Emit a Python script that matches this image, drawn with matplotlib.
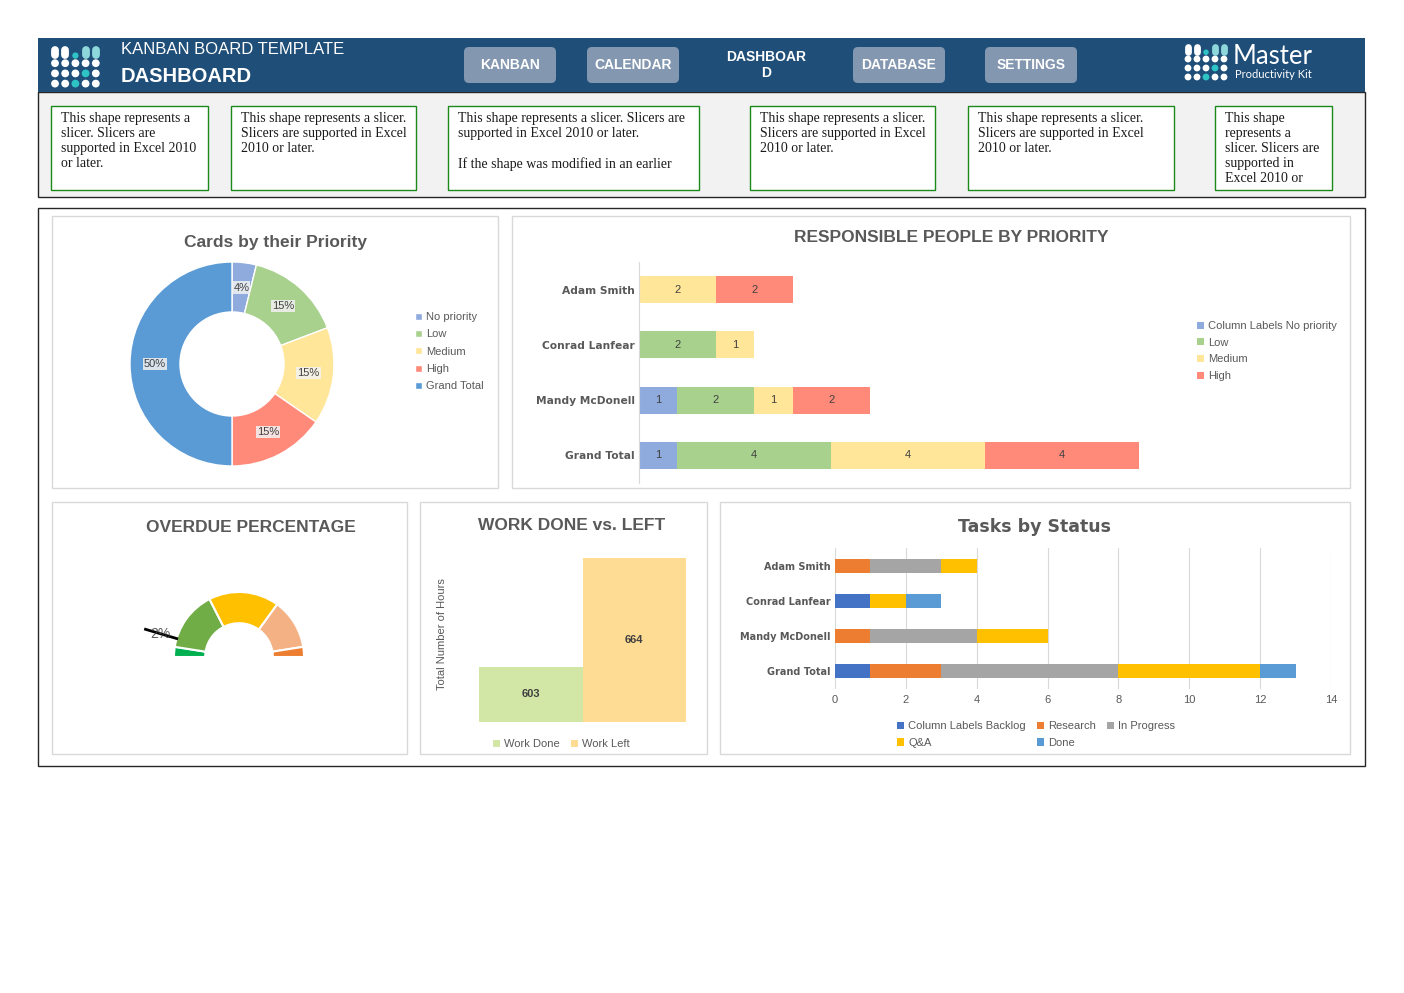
import matplotlib
matplotlib.use("Agg")
import matplotlib.pyplot as plt
from matplotlib.patches import Rectangle, FancyBboxPatch, Circle
from matplotlib.lines import Line2D
import numpy as np

plt.rcParams['font.family'] = ['Liberation Sans', 'DejaVu Sans']

W, H = 1404, 993
GREY = '#595959'

# ---------------- data ----------------
nav_items = ['KANBAN', 'CALENDAR', 'DASHBOAR\nD', 'DATABASE', 'SETTINGS']

slicer_texts = [
    "This shape represents a\nslicer. Slicers are\nsupported in Excel 2010\nor later.",
    "This shape represents a slicer.\nSlicers are supported in Excel\n2010 or later.",
    "This shape represents a slicer. Slicers are\nsupported in Excel 2010 or later.\n\nIf the shape was modified in an earlier",
    "This shape represents a slicer.\nSlicers are supported in Excel\n2010 or later.",
    "This shape represents a slicer.\nSlicers are supported in Excel\n2010 or later.",
    "This shape\nrepresents a\nslicer. Slicers are\nsupported in\nExcel 2010 or",
]

priority_labels = ['No priority', 'Low', 'Medium', 'High', 'Grand Total']
priority_counts = [1, 4, 4, 4, 13]
priority_colors = ['#8FAADC', '#A9D18E', '#FFE699', '#FF8A7A', '#5B9BD5']

people = ['Adam Smith', 'Conrad Lanfear', 'Mandy McDonell', 'Grand Total']
prio_series = ['Column Labels No priority', 'Low', 'Medium', 'High']
no_priority = [0, 0, 1, 1]
low = [0, 2, 2, 4]
medium = [2, 1, 1, 4]
high = [2, 0, 2, 4]

gauge_bands = [5, 30, 35, 25, 5]
gauge_colors = ['#00B050', '#70AD47', '#FFC000', '#F4B183', '#ED7D31']
overdue_label = '2%'
needle_angle = 163.5

work_labels = ['Work Done', 'Work Left']
work_hours = [603, 664]
work_colors = ['#D2E7A6', '#FFDC94']

status_series = ['Column Labels Backlog', 'Research', 'In Progress', 'Q&A', 'Done']
backlog = [0, 1, 0, 1]
research = [1, 0, 1, 2]
in_progress = [2, 0, 3, 5]
qa = [1, 1, 2, 4]
done = [0, 1, 0, 1]
status_colors = ['#4472C4', '#ED7D31', '#A5A5A5', '#FFC000', '#5B9BD5']


def box(x0, y0, x1, y1):
    # pixel box (top-left origin) -> figure axes
    a = fig.add_axes([x0 / W, 1 - y1 / H, (x1 - x0) / W, (y1 - y0) / H])
    a.set_facecolor('none')
    return a


def dot_logo(ax, x0, y0, step, r):
    white, teal, lteal = 'white', '#2EC4C6', '#8ED8DC'
    for j in range(1, 4):
        for i in range(5):
            c = teal if (j, i) in [(2, 3), (3, 2)] else white
            ax.add_patch(Circle((x0 + i * step, y0 + j * step), r, color=c, lw=0))
    for i, c in [(0, white), (1, white), (3, lteal), (4, lteal)]:
        ax.add_line(Line2D([x0 + i * step] * 2, [y0 - step * 0.3, y0 + step * 0.2],
                           color=c, lw=r * 2 * 0.72, solid_capstyle='round'))
    ax.add_patch(Circle((x0 + 2 * step, y0 + step * 0.25), r * 0.8, color=teal, lw=0))


def legend_kw(x, y, loc='upper left', **kw):
    d = dict(loc=loc, bbox_to_anchor=(x / W, 1 - y / H), bbox_transform=fig.transFigure,
             frameon=False, fontsize=8, labelcolor=GREY, handlelength=0.6, handleheight=0.6,
             handletextpad=0.4, labelspacing=0.62, borderpad=0, borderaxespad=0)
    d.update(kw)
    return d


fig = plt.figure(figsize=(W / 100, H / 100), dpi=100)
bg = fig.add_axes([0, 0, 1, 1])
bg.set_xlim(0, W)
bg.set_ylim(H, 0)
bg.axis('off')

# ---------------- header ----------------
bg.add_patch(Rectangle((38, 92), 1327, 105, fc='#F2F2F2', ec='#262626', lw=1))
bg.add_patch(Rectangle((38, 38), 1327, 54, fc='#1F4E78', ec='none'))
dot_logo(bg, 55, 53, 10.2, 3.9)
bg.text(121, 49, 'KANBAN BOARD TEMPLATE', color='white', fontsize=12, va='center')
bg.text(121, 77, 'DASHBOARD', color='white', fontsize=14.5, fontweight='bold', va='center')

btn_x = [464, 587, 720, 853, 985]
for x, label in zip(btn_x, nav_items):
    if '\n' in label:
        bg.text(766, 65, label, color='white', fontsize=10, fontweight='bold',
                ha='center', va='center', linespacing=1.1)
        continue
    bg.add_patch(FancyBboxPatch((x + 3, 50), 86, 30, boxstyle='round,pad=3,rounding_size=5',
                                fc='#8497B0', ec='none'))
    bg.text(x + 46, 65, label, color='white', fontsize=10, fontweight='bold',
            ha='center', va='center')

dot_logo(bg, 1188, 50, 9.0, 3.4)
bg.text(1233, 56, 'Master', color='white', fontsize=18.5, family='Lato', va='center')
bg.text(1235, 74, 'Productivity Kit', color='white', fontsize=8, family='Lato', va='center')

# slicers
slicer_boxes = [(51, 208), (231, 416), (448, 699), (750, 935), (968, 1174), (1215, 1332)]
for (x0, x1), txt in zip(slicer_boxes, slicer_texts):
    bg.add_patch(Rectangle((x0, 106), x1 - x0, 84, fc='white', ec='#1A8A1A', lw=1))
    t = bg.text(x0 + 10, 112, txt, family='Liberation Serif', fontsize=10, color='#1A1A1A',
                va='top', ha='left', linespacing=1.21)
    t.set_clip_path(Rectangle((x0, 106), x1 - x0, 84, transform=bg.transData))

# main frame and panels
bg.add_patch(Rectangle((38, 208), 1327, 558, fc='white', ec='#262626', lw=1))
for x0, y0, x1, y1 in [(52, 216, 498, 488), (512, 216, 1350, 488), (52, 502, 407, 754),
                       (420, 502, 707, 754), (720, 502, 1350, 754)]:
    bg.add_patch(Rectangle((x0, y0), x1 - x0, y1 - y0, fc='white', ec='#D9D9D9', lw=1))

# ---------------- Cards by their Priority ----------------
bg.text(275, 242, 'Cards by their Priority', color=GREY, fontsize=12.5, fontweight='bold',
        ha='center', va='center')
ax1 = box(130, 262, 334, 466)
wedges, _, autot = ax1.pie(priority_counts, colors=priority_colors, startangle=90,
                           counterclock=False, radius=1, autopct='%1.0f%%', pctdistance=0.755,
                           wedgeprops=dict(width=0.49, edgecolor='white', linewidth=1))
for t in autot:
    t.set_fontsize(8)
    t.set_color('#404040')
    t.set_bbox(dict(boxstyle='square,pad=0.1', fc='#F2F2F2', ec='none', alpha=0.85))
ax1.set_xlim(-1, 1)
ax1.set_ylim(-1, 1)
ax1.legend(wedges, priority_labels, **legend_kw(415, 312, labelspacing=0.66))

# ---------------- Responsible people by priority ----------------
bg.text(951, 237, 'RESPONSIBLE PEOPLE BY PRIORITY', color=GREY, fontsize=12.5,
        fontweight='bold', ha='center', va='center')
ax2 = box(639, 262, 1177, 483)
y = np.arange(len(people))
left = np.zeros(len(people))
for name, vals, c in zip(prio_series, [no_priority, low, medium, high], priority_colors):
    bars = ax2.barh(y, vals, left=left, height=0.485, color=c, label=name)
    ax2.bar_label(bars, labels=[str(v) if v else '' for v in vals], label_type='center',
                  fontsize=8, color='#404040')
    left += np.array(vals)
ax2.set_xlim(0, 14)
ax2.set_ylim(3.5, -0.5)
ax2.set_xticks([])
ax2.set_yticks(y, people, family='DejaVu Sans', fontsize=7.7, fontweight='bold', color=GREY)
ax2.tick_params(axis='y', length=0, pad=3)
for s in ['top', 'right', 'bottom']:
    ax2.spines[s].set_visible(False)
ax2.spines['left'].set_color('#D9D9D9')
ax2.legend(**legend_kw(1197, 321, labelspacing=0.6))

# ---------------- Overdue percentage gauge ----------------
bg.text(251, 527, 'OVERDUE PERCENTAGE', color=GREY, fontsize=12.5, fontweight='bold',
        ha='center', va='center')
ax3 = box(174, 592, 304, 722)
gw, _ = ax3.pie(gauge_bands + [sum(gauge_bands)], colors=gauge_colors + ['white'],
                startangle=180, counterclock=False, radius=1,
                wedgeprops=dict(width=0.48, edgecolor='white', linewidth=1.5))
gw[-1].set_visible(False)
ax3.set_xlim(-1, 1)
ax3.set_ylim(-1, 1)
a = np.deg2rad(needle_angle)
ax3.plot([np.cos(a) * 1.0, np.cos(a) * 1.5], [np.sin(a) * 1.0, np.sin(a) * 1.5],
         color='black', lw=2, clip_on=False, zorder=5)
ax3.text(np.cos(a) * 1.26, np.sin(a) * 1.26, overdue_label, fontsize=10, color='#404040',
         ha='center', va='center', clip_on=False, zorder=6, alpha=0.85)

# ---------------- Work done vs left ----------------
bg.text(572, 526, 'WORK DONE vs. LEFT', color=GREY, fontsize=12.5, fontweight='bold',
        ha='center', va='center')
ax4 = box(479, 547, 686, 722)
wb = ax4.bar([0, 1], work_hours, width=1, color=work_colors)
for b, lab in zip(wb, work_labels):
    b.set_label(lab)
ax4.bar_label(wb, label_type='center', fontsize=8, fontweight='bold', color='#404040')
ax4.set_ylim(572, 670)
ax4.set_xlim(-0.5, 1.5)
ax4.set_xticks([])
ax4.set_yticks([])
for s in ax4.spines.values():
    s.set_visible(False)
ax4.set_ylabel('Total Number of Hours', fontsize=8, color=GREY)
ax4.yaxis.set_label_coords(-0.155, 0.503)
ax4.legend(**legend_kw(493, 744, loc='center left', ncol=2, columnspacing=1.0))

# ---------------- Tasks by status ----------------
bg.text(1035, 527, 'Tasks by Status', color=GREY, family='DejaVu Sans', fontsize=12.5,
        fontweight='bold', ha='center', va='center')
ax5 = box(835, 548, 1331, 689)
left = np.zeros(len(people))
handles = []
for name, vals, c in zip(status_series, [backlog, research, in_progress, qa, done], status_colors):
    bars = ax5.barh(y, vals, left=left, height=0.4, color=c, label=name, zorder=3)
    handles.append(bars)
    left += np.array(vals)
ax5.set_xlim(0, 14)
ax5.set_ylim(3.5, -0.5)
ax5.set_xticks(np.arange(0, 15, 2))
ax5.set_yticks(y, people, family='DejaVu Sans', fontsize=7, fontweight='bold', color=GREY)
ax5.tick_params(axis='both', length=0, labelsize=8, labelcolor=GREY)
ax5.tick_params(axis='y', pad=3, labelsize=7)
ax5.tick_params(axis='x', pad=4)
ax5.grid(axis='x', color='#D9D9D9', lw=0.8, zorder=0)
for s in ax5.spines.values():
    s.set_visible(False)
order = [0, 3, 1, 4, 2]
ax5.legend([handles[i] for i in order], [status_series[i] for i in order],
           **legend_kw(897, 721, ncol=3, columnspacing=1.0, labelspacing=0.62))

fig.savefig('out.png', dpi=100)
